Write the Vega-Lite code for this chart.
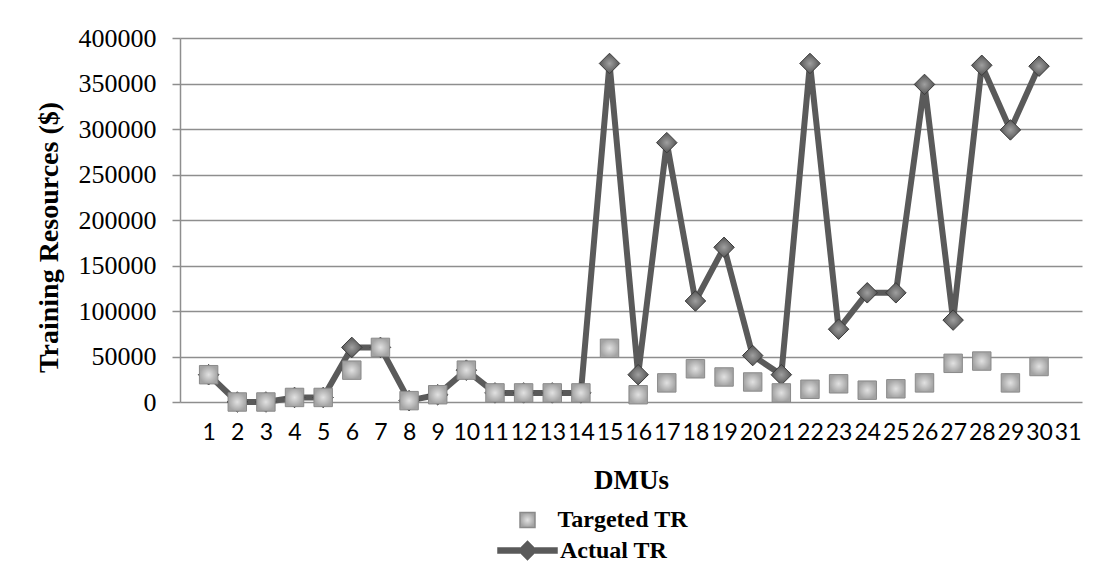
{
  "$schema": "https://vega.github.io/schema/vega-lite/v6.json",
  "width": 902,
  "height": 364,
  "autosize": {"type": "none"},
  "padding": {"left": 180, "top": 38, "right": 36, "bottom": 169},
  "background": "white",
  "data": {
    "values": [
      {"dmu": 1, "targeted": 30000, "actual": 30000},
      {"dmu": 2, "targeted": 0, "actual": 0},
      {"dmu": 3, "targeted": 0, "actual": 0},
      {"dmu": 4, "targeted": 5000, "actual": 5000},
      {"dmu": 5, "targeted": 5000, "actual": 5000},
      {"dmu": 6, "targeted": 35000, "actual": 60000},
      {"dmu": 7, "targeted": 60000, "actual": 60000},
      {"dmu": 8, "targeted": 1500, "actual": 1500},
      {"dmu": 9, "targeted": 8000, "actual": 8000},
      {"dmu": 10, "targeted": 35000, "actual": 35000},
      {"dmu": 11, "targeted": 10000, "actual": 10000},
      {"dmu": 12, "targeted": 10000, "actual": 10000},
      {"dmu": 13, "targeted": 10000, "actual": 10000},
      {"dmu": 14, "targeted": 10000, "actual": 10000},
      {"dmu": 15, "targeted": 59000, "actual": 372000},
      {"dmu": 16, "targeted": 8000, "actual": 30000},
      {"dmu": 17, "targeted": 21000, "actual": 285000},
      {"dmu": 18, "targeted": 36500, "actual": 111000},
      {"dmu": 19, "targeted": 27500, "actual": 170000},
      {"dmu": 20, "targeted": 22000, "actual": 51000},
      {"dmu": 21, "targeted": 10000, "actual": 30000},
      {"dmu": 22, "targeted": 14000, "actual": 372000},
      {"dmu": 23, "targeted": 20000, "actual": 80000},
      {"dmu": 24, "targeted": 13000, "actual": 120000},
      {"dmu": 25, "targeted": 14500, "actual": 120000},
      {"dmu": 26, "targeted": 21000, "actual": 349000},
      {"dmu": 27, "targeted": 42500, "actual": 90000},
      {"dmu": 28, "targeted": 45000, "actual": 370000},
      {"dmu": 29, "targeted": 21000, "actual": 299000},
      {"dmu": 30, "targeted": 39000, "actual": 369000}
    ]
  },
  "encoding": {
    "x": {
      "field": "dmu",
      "type": "quantitative",
      "scale": {"domain": [0, 31.5], "nice": false, "zero": false},
      "axis": {
        "title": "DMUs",
        "values": [1, 2, 3, 4, 5, 6, 7, 8, 9, 10, 11, 12, 13, 14, 15, 16, 17, 18, 19, 20, 21, 22, 23, 24, 25, 26, 27, 28, 29, 30, 31],
        "format": "d",
        "grid": false,
        "ticks": false,
        "tickSize": 0,
        "domain": false,
        "labelFont": "Lato",
        "labelFontSize": 23,
        "labelColor": "#000000",
        "labelPadding": 19,
        "labelFlush": false,
        "labelOverlap": false,
        "titleFont": "Liberation Serif",
        "titleFontSize": 27,
        "titleFontWeight": "bold",
        "titleColor": "#000000",
        "titleBaseline": "top",
        "titleY": 65
      }
    }
  },
  "layer": [
    {
      "mark": {"type": "line", "strokeWidth": 6, "strokeJoin": "round"},
      "encoding": {
        "y": {"field": "actual", "type": "quantitative", "title": "Training Resources ($)", "scale": {"domain": [0, 400000], "nice": false}},
        "stroke": {
          "datum": "Actual TR",
          "scale": {"range": ["#5a5a5a"]},
          "legend": {
            "orient": "none",
            "legendX": 317,
            "legendY": 482,
            "title": null,
            "padding": 0,
            "symbolType": "M-1,-0.1L-0.23,-0.1L0,-0.33L0.23,-0.1L1,-0.1L1,0.1L0.23,0.1L0,0.33L-0.23,0.1L-1,0.1Z",
            "symbolSize": 3600,
            "labelOffset": 2,
            "labelFont": "Liberation Serif",
            "labelFontWeight": "bold",
            "labelFontSize": 24,
            "labelColor": "#000000",
            "encode": {
              "symbols": {
                "update": {
                  "fill": {"value": "#5a5a5a"},
                  "stroke": {"value": "#474747"},
                  "strokeWidth": {"value": 0.5},
                  "opacity": {"value": 1}
                }
              }
            }
          }
        }
      }
    },
    {
      "mark": {
        "type": "point",
        "shape": "diamond",
        "filled": true,
        "size": 420,
        "opacity": 1,
        "fill": {"gradient": "radial", "stops": [{"offset": 0, "color": "#a0a0a0"}, {"offset": 1, "color": "#555555"}]},
        "stroke": "#3a3a3a",
        "strokeWidth": 1
      },
      "encoding": {
        "y": {"field": "actual", "type": "quantitative", "title": "Training Resources ($)"}
      }
    },
    {
      "mark": {
        "type": "point",
        "shape": "square",
        "filled": true,
        "size": 340,
        "opacity": 1,
        "fill": {"gradient": "radial", "stops": [{"offset": 0, "color": "#e2e2e2"}, {"offset": 1, "color": "#a3a3a3"}]},
        "stroke": "#8a8a8a",
        "strokeWidth": 1
      },
      "encoding": {
        "y": {"field": "targeted", "type": "quantitative", "title": "Training Resources ($)"},
        "shape": {
          "datum": "Targeted TR",
          "scale": {"range": ["square"]},
          "legend": {
            "orient": "none",
            "legendX": 335.5,
            "legendY": 470,
            "title": null,
            "padding": 0,
            "symbolType": "square",
            "symbolSize": 225,
            "labelOffset": 18,
            "labelFont": "Liberation Serif",
            "labelFontWeight": "bold",
            "labelFontSize": 24,
            "labelColor": "#000000",
            "encode": {
              "symbols": {
                "update": {
                  "fill": {"value": {"gradient": "radial", "stops": [{"offset": 0, "color": "#e2e2e2"}, {"offset": 1, "color": "#a3a3a3"}]}},
                  "stroke": {"value": "#8a8a8a"},
                  "strokeWidth": {"value": 1},
                  "opacity": {"value": 1}
                }
              }
            }
          }
        }
      }
    }
  ],
  "config": {
    "view": {"stroke": null},
    "axisY": {
      "values": [0, 50000, 100000, 150000, 200000, 250000, 300000, 350000, 400000],
      "format": "d",
      "grid": true,
      "gridColor": "#8e8e8e",
      "gridWidth": 1.5,
      "gridOpacity": 1,
      "domain": true,
      "domainColor": "#8e8e8e",
      "domainWidth": 1.5,
      "tickColor": "#8e8e8e",
      "tickWidth": 1.5,
      "tickSize": 8,
      "labelPadding": 16,
      "labelFont": "Liberation Serif",
      "labelFontSize": 26,
      "labelColor": "#000000",
      "titleFont": "Liberation Serif",
      "titleFontSize": 28,
      "titleFontWeight": "bold",
      "titleColor": "#000000",
      "titleBaseline": "middle",
      "titleX": -131,
      "titleY": 199
    }
  }
}
